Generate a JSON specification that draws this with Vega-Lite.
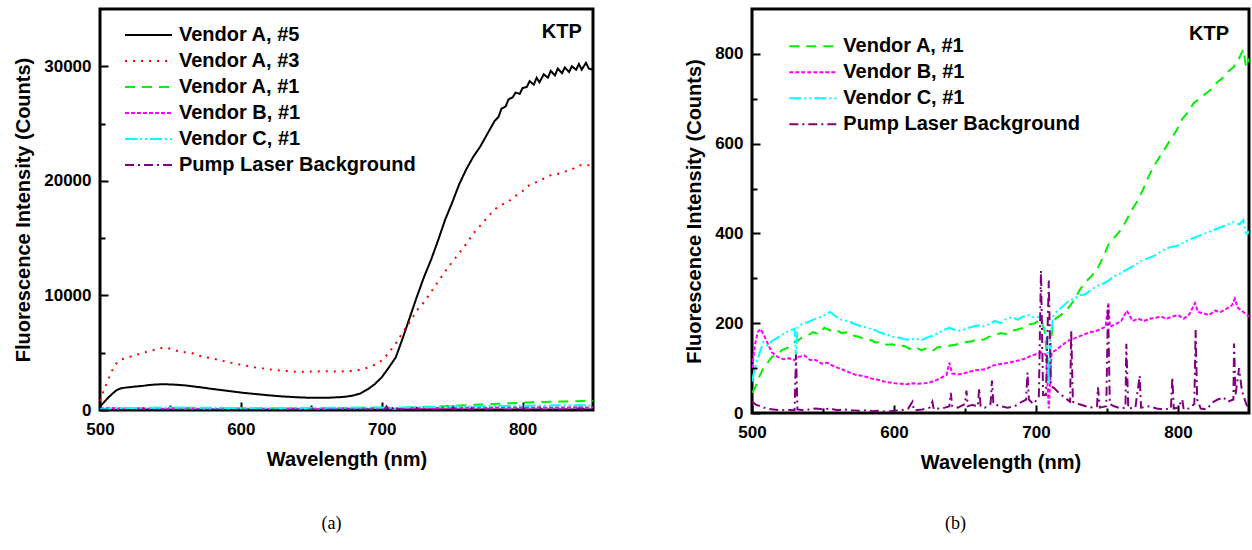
{
  "$schema": "https://vega.github.io/schema/vega-lite/v6.json",
  "background": "white",
  "padding": {"left": 12, "top": 7, "right": 0, "bottom": 0},
  "config": {
    "font": "Liberation Sans",
    "view": {"stroke": "black", "strokeWidth": 3},
    "axis": {"domain": false, "grid": false, "labelFlush": false, "labelFont": "Liberation Sans", "labelFontWeight": "bold", "labelFontSize": 17, "labelColor": "black", "titleFont": "Liberation Sans", "titleFontWeight": "bold", "titleFontSize": 20, "titleColor": "black", "tickColor": "black", "tickWidth": 2},
    "legend": {"orient": "none", "symbolType": "M-2,0H2", "symbolSize": 552, "symbolStrokeWidth": 2, "symbolFillColor": "transparent", "labelFont": "Liberation Sans", "labelFontWeight": "bold", "labelFontSize": 20, "labelColor": "black", "labelLimit": 400, "labelOffset": 17.5, "rowPadding": 3, "padding": 0, "title": null},
    "title": {"font": "Liberation Serif", "fontSize": 18, "fontWeight": "normal", "color": "black"}
  },
  "datasets": {
    "spec": [
      {"series":"Vendor A, #5","nm":500,"counts":300},{"series":"Vendor A, #5","nm":503,"counts":700},{"series":"Vendor A, #5","nm":506,"counts":1100},{"series":"Vendor A, #5","nm":509,"counts":1450},{"series":"Vendor A, #5","nm":512,"counts":1750},{"series":"Vendor A, #5","nm":515,"counts":1900},{"series":"Vendor A, #5","nm":520,"counts":1980},{"series":"Vendor A, #5","nm":525,"counts":2050},{"series":"Vendor A, #5","nm":530,"counts":2100},{"series":"Vendor A, #5","nm":535,"counts":2180},{"series":"Vendor A, #5","nm":540,"counts":2230},{"series":"Vendor A, #5","nm":545,"counts":2250},{"series":"Vendor A, #5","nm":550,"counts":2230},{"series":"Vendor A, #5","nm":555,"counts":2200},{"series":"Vendor A, #5","nm":560,"counts":2150},{"series":"Vendor A, #5","nm":565,"counts":2080},{"series":"Vendor A, #5","nm":570,"counts":2000},{"series":"Vendor A, #5","nm":575,"counts":1920},{"series":"Vendor A, #5","nm":580,"counts":1830},{"series":"Vendor A, #5","nm":590,"counts":1680},{"series":"Vendor A, #5","nm":600,"counts":1520},{"series":"Vendor A, #5","nm":610,"counts":1400},{"series":"Vendor A, #5","nm":620,"counts":1280},{"series":"Vendor A, #5","nm":630,"counts":1180},{"series":"Vendor A, #5","nm":640,"counts":1110},{"series":"Vendor A, #5","nm":650,"counts":1060},{"series":"Vendor A, #5","nm":660,"counts":1060},{"series":"Vendor A, #5","nm":670,"counts":1120},{"series":"Vendor A, #5","nm":675,"counts":1170},{"series":"Vendor A, #5","nm":680,"counts":1270},{"series":"Vendor A, #5","nm":685,"counts":1450},{"series":"Vendor A, #5","nm":690,"counts":1800},{"series":"Vendor A, #5","nm":695,"counts":2250},{"series":"Vendor A, #5","nm":700,"counts":2850},{"series":"Vendor A, #5","nm":705,"counts":3700},{"series":"Vendor A, #5","nm":710,"counts":4600},{"series":"Vendor A, #5","nm":715,"counts":6300},{"series":"Vendor A, #5","nm":720,"counts":8100},{"series":"Vendor A, #5","nm":725,"counts":9900},{"series":"Vendor A, #5","nm":730,"counts":11600},{"series":"Vendor A, #5","nm":735,"counts":13100},{"series":"Vendor A, #5","nm":740,"counts":14800},{"series":"Vendor A, #5","nm":745,"counts":16600},{"series":"Vendor A, #5","nm":750,"counts":18100},{"series":"Vendor A, #5","nm":755,"counts":19700},{"series":"Vendor A, #5","nm":760,"counts":21000},{"series":"Vendor A, #5","nm":765,"counts":22100},{"series":"Vendor A, #5","nm":770,"counts":23000},{"series":"Vendor A, #5","nm":775,"counts":24100},{"series":"Vendor A, #5","nm":780,"counts":25200},{"series":"Vendor A, #5","nm":783,"counts":25600},{"series":"Vendor A, #5","nm":785,"counts":26300},{"series":"Vendor A, #5","nm":788,"counts":26500},{"series":"Vendor A, #5","nm":790,"counts":27100},{"series":"Vendor A, #5","nm":793,"counts":27300},{"series":"Vendor A, #5","nm":795,"counts":27700},{"series":"Vendor A, #5","nm":798,"counts":27600},{"series":"Vendor A, #5","nm":800,"counts":28100},{"series":"Vendor A, #5","nm":803,"counts":28200},{"series":"Vendor A, #5","nm":805,"counts":28700},{"series":"Vendor A, #5","nm":808,"counts":28400},{"series":"Vendor A, #5","nm":810,"counts":29000},{"series":"Vendor A, #5","nm":812,"counts":28600},{"series":"Vendor A, #5","nm":815,"counts":29300},{"series":"Vendor A, #5","nm":818,"counts":29000},{"series":"Vendor A, #5","nm":820,"counts":29600},{"series":"Vendor A, #5","nm":823,"counts":29200},{"series":"Vendor A, #5","nm":825,"counts":29800},{"series":"Vendor A, #5","nm":828,"counts":29400},{"series":"Vendor A, #5","nm":830,"counts":29900},{"series":"Vendor A, #5","nm":833,"counts":29500},{"series":"Vendor A, #5","nm":835,"counts":30000},{"series":"Vendor A, #5","nm":838,"counts":29700},{"series":"Vendor A, #5","nm":840,"counts":30200},{"series":"Vendor A, #5","nm":842,"counts":29700},{"series":"Vendor A, #5","nm":845,"counts":30300},{"series":"Vendor A, #5","nm":847,"counts":29800},{"series":"Vendor A, #5","nm":850,"counts":29700},
      {"series":"Vendor A, #3","nm":500,"counts":800},{"series":"Vendor A, #3","nm":502,"counts":1500},{"series":"Vendor A, #3","nm":505,"counts":2400},{"series":"Vendor A, #3","nm":508,"counts":3300},{"series":"Vendor A, #3","nm":511,"counts":4000},{"series":"Vendor A, #3","nm":515,"counts":4400},{"series":"Vendor A, #3","nm":520,"counts":4600},{"series":"Vendor A, #3","nm":525,"counts":4800},{"series":"Vendor A, #3","nm":530,"counts":4950},{"series":"Vendor A, #3","nm":535,"counts":5150},{"series":"Vendor A, #3","nm":540,"counts":5300},{"series":"Vendor A, #3","nm":545,"counts":5450},{"series":"Vendor A, #3","nm":550,"counts":5350},{"series":"Vendor A, #3","nm":555,"counts":5150},{"series":"Vendor A, #3","nm":560,"counts":5050},{"series":"Vendor A, #3","nm":565,"counts":4980},{"series":"Vendor A, #3","nm":570,"counts":4750},{"series":"Vendor A, #3","nm":575,"counts":4600},{"series":"Vendor A, #3","nm":580,"counts":4500},{"series":"Vendor A, #3","nm":590,"counts":4200},{"series":"Vendor A, #3","nm":600,"counts":3950},{"series":"Vendor A, #3","nm":610,"counts":3720},{"series":"Vendor A, #3","nm":620,"counts":3550},{"series":"Vendor A, #3","nm":630,"counts":3420},{"series":"Vendor A, #3","nm":640,"counts":3340},{"series":"Vendor A, #3","nm":650,"counts":3360},{"series":"Vendor A, #3","nm":660,"counts":3380},{"series":"Vendor A, #3","nm":670,"counts":3360},{"series":"Vendor A, #3","nm":680,"counts":3420},{"series":"Vendor A, #3","nm":685,"counts":3520},{"series":"Vendor A, #3","nm":690,"counts":3700},{"series":"Vendor A, #3","nm":695,"counts":3950},{"series":"Vendor A, #3","nm":700,"counts":4300},{"series":"Vendor A, #3","nm":705,"counts":5000},{"series":"Vendor A, #3","nm":710,"counts":5800},{"series":"Vendor A, #3","nm":715,"counts":6800},{"series":"Vendor A, #3","nm":720,"counts":7700},{"series":"Vendor A, #3","nm":725,"counts":8700},{"series":"Vendor A, #3","nm":730,"counts":9400},{"series":"Vendor A, #3","nm":735,"counts":10300},{"series":"Vendor A, #3","nm":740,"counts":11200},{"series":"Vendor A, #3","nm":745,"counts":12100},{"series":"Vendor A, #3","nm":750,"counts":12900},{"series":"Vendor A, #3","nm":755,"counts":13700},{"series":"Vendor A, #3","nm":760,"counts":14500},{"series":"Vendor A, #3","nm":765,"counts":15400},{"series":"Vendor A, #3","nm":770,"counts":16100},{"series":"Vendor A, #3","nm":775,"counts":16800},{"series":"Vendor A, #3","nm":780,"counts":17500},{"series":"Vendor A, #3","nm":785,"counts":17900},{"series":"Vendor A, #3","nm":790,"counts":18200},{"series":"Vendor A, #3","nm":795,"counts":18700},{"series":"Vendor A, #3","nm":800,"counts":19100},{"series":"Vendor A, #3","nm":805,"counts":19650},{"series":"Vendor A, #3","nm":810,"counts":19900},{"series":"Vendor A, #3","nm":815,"counts":20200},{"series":"Vendor A, #3","nm":820,"counts":20500},{"series":"Vendor A, #3","nm":825,"counts":20600},{"series":"Vendor A, #3","nm":830,"counts":20800},{"series":"Vendor A, #3","nm":835,"counts":21000},{"series":"Vendor A, #3","nm":840,"counts":21350},{"series":"Vendor A, #3","nm":845,"counts":21400},{"series":"Vendor A, #3","nm":850,"counts":21300},
      {"series":"Vendor A, #1","nm":500,"counts":45},{"series":"Vendor A, #1","nm":502,"counts":55},{"series":"Vendor A, #1","nm":505,"counts":80},{"series":"Vendor A, #1","nm":508,"counts":100},{"series":"Vendor A, #1","nm":511,"counts":112},{"series":"Vendor A, #1","nm":514,"counts":125},{"series":"Vendor A, #1","nm":518,"counts":130},{"series":"Vendor A, #1","nm":521,"counts":140},{"series":"Vendor A, #1","nm":525,"counts":145},{"series":"Vendor A, #1","nm":528,"counts":155},{"series":"Vendor A, #1","nm":532,"counts":160},{"series":"Vendor A, #1","nm":535,"counts":168},{"series":"Vendor A, #1","nm":539,"counts":172},{"series":"Vendor A, #1","nm":543,"counts":180},{"series":"Vendor A, #1","nm":547,"counts":176},{"series":"Vendor A, #1","nm":551,"counts":190},{"series":"Vendor A, #1","nm":555,"counts":184},{"series":"Vendor A, #1","nm":559,"counts":186},{"series":"Vendor A, #1","nm":563,"counts":178},{"series":"Vendor A, #1","nm":567,"counts":180},{"series":"Vendor A, #1","nm":571,"counts":173},{"series":"Vendor A, #1","nm":575,"counts":170},{"series":"Vendor A, #1","nm":579,"counts":165},{"series":"Vendor A, #1","nm":583,"counts":163},{"series":"Vendor A, #1","nm":587,"counts":157},{"series":"Vendor A, #1","nm":591,"counts":158},{"series":"Vendor A, #1","nm":595,"counts":152},{"series":"Vendor A, #1","nm":599,"counts":153},{"series":"Vendor A, #1","nm":603,"counts":148},{"series":"Vendor A, #1","nm":607,"counts":150},{"series":"Vendor A, #1","nm":611,"counts":143},{"series":"Vendor A, #1","nm":615,"counts":147},{"series":"Vendor A, #1","nm":619,"counts":140},{"series":"Vendor A, #1","nm":623,"counts":144},{"series":"Vendor A, #1","nm":627,"counts":138},{"series":"Vendor A, #1","nm":631,"counts":147},{"series":"Vendor A, #1","nm":635,"counts":146},{"series":"Vendor A, #1","nm":639,"counts":150},{"series":"Vendor A, #1","nm":643,"counts":152},{"series":"Vendor A, #1","nm":647,"counts":155},{"series":"Vendor A, #1","nm":651,"counts":158},{"series":"Vendor A, #1","nm":655,"counts":160},{"series":"Vendor A, #1","nm":659,"counts":165},{"series":"Vendor A, #1","nm":663,"counts":163},{"series":"Vendor A, #1","nm":667,"counts":170},{"series":"Vendor A, #1","nm":671,"counts":173},{"series":"Vendor A, #1","nm":675,"counts":178},{"series":"Vendor A, #1","nm":679,"counts":176},{"series":"Vendor A, #1","nm":683,"counts":183},{"series":"Vendor A, #1","nm":687,"counts":186},{"series":"Vendor A, #1","nm":691,"counts":190},{"series":"Vendor A, #1","nm":695,"counts":197},{"series":"Vendor A, #1","nm":699,"counts":200},{"series":"Vendor A, #1","nm":703,"counts":207},{"series":"Vendor A, #1","nm":706,"counts":185},{"series":"Vendor A, #1","nm":708,"counts":120},{"series":"Vendor A, #1","nm":709,"counts":72},{"series":"Vendor A, #1","nm":710,"counts":140},{"series":"Vendor A, #1","nm":712,"counts":205},{"series":"Vendor A, #1","nm":715,"counts":213},{"series":"Vendor A, #1","nm":719,"counts":222},{"series":"Vendor A, #1","nm":723,"counts":235},{"series":"Vendor A, #1","nm":727,"counts":252},{"series":"Vendor A, #1","nm":731,"counts":275},{"series":"Vendor A, #1","nm":735,"counts":292},{"series":"Vendor A, #1","nm":739,"counts":305},{"series":"Vendor A, #1","nm":743,"counts":320},{"series":"Vendor A, #1","nm":747,"counts":345},{"series":"Vendor A, #1","nm":751,"counts":375},{"series":"Vendor A, #1","nm":755,"counts":390},{"series":"Vendor A, #1","nm":759,"counts":405},{"series":"Vendor A, #1","nm":763,"counts":425},{"series":"Vendor A, #1","nm":767,"counts":450},{"series":"Vendor A, #1","nm":771,"counts":470},{"series":"Vendor A, #1","nm":775,"counts":495},{"series":"Vendor A, #1","nm":779,"counts":525},{"series":"Vendor A, #1","nm":783,"counts":550},{"series":"Vendor A, #1","nm":787,"counts":570},{"series":"Vendor A, #1","nm":791,"counts":590},{"series":"Vendor A, #1","nm":795,"counts":610},{"series":"Vendor A, #1","nm":799,"counts":630},{"series":"Vendor A, #1","nm":803,"counts":655},{"series":"Vendor A, #1","nm":807,"counts":670},{"series":"Vendor A, #1","nm":811,"counts":690},{"series":"Vendor A, #1","nm":815,"counts":700},{"series":"Vendor A, #1","nm":819,"counts":710},{"series":"Vendor A, #1","nm":823,"counts":720},{"series":"Vendor A, #1","nm":827,"counts":735},{"series":"Vendor A, #1","nm":831,"counts":745},{"series":"Vendor A, #1","nm":835,"counts":760},{"series":"Vendor A, #1","nm":839,"counts":770},{"series":"Vendor A, #1","nm":843,"counts":790},{"series":"Vendor A, #1","nm":846,"counts":810},{"series":"Vendor A, #1","nm":848,"counts":770},{"series":"Vendor A, #1","nm":850,"counts":790},
      {"series":"Vendor B, #1","nm":500,"counts":100},{"series":"Vendor B, #1","nm":502,"counts":150},{"series":"Vendor B, #1","nm":504,"counts":180},{"series":"Vendor B, #1","nm":506,"counts":187},{"series":"Vendor B, #1","nm":508,"counts":176},{"series":"Vendor B, #1","nm":511,"counts":155},{"series":"Vendor B, #1","nm":514,"counts":135},{"series":"Vendor B, #1","nm":518,"counts":125},{"series":"Vendor B, #1","nm":522,"counts":120},{"series":"Vendor B, #1","nm":526,"counts":122},{"series":"Vendor B, #1","nm":530,"counts":118},{"series":"Vendor B, #1","nm":533,"counts":125},{"series":"Vendor B, #1","nm":537,"counts":128},{"series":"Vendor B, #1","nm":541,"counts":118},{"series":"Vendor B, #1","nm":545,"counts":118},{"series":"Vendor B, #1","nm":549,"counts":110},{"series":"Vendor B, #1","nm":553,"counts":112},{"series":"Vendor B, #1","nm":557,"counts":105},{"series":"Vendor B, #1","nm":561,"counts":100},{"series":"Vendor B, #1","nm":565,"counts":95},{"series":"Vendor B, #1","nm":569,"counts":90},{"series":"Vendor B, #1","nm":573,"counts":85},{"series":"Vendor B, #1","nm":577,"counts":83},{"series":"Vendor B, #1","nm":581,"counts":80},{"series":"Vendor B, #1","nm":585,"counts":76},{"series":"Vendor B, #1","nm":589,"counts":74},{"series":"Vendor B, #1","nm":593,"counts":70},{"series":"Vendor B, #1","nm":597,"counts":68},{"series":"Vendor B, #1","nm":601,"counts":66},{"series":"Vendor B, #1","nm":605,"counts":65},{"series":"Vendor B, #1","nm":609,"counts":64},{"series":"Vendor B, #1","nm":613,"counts":66},{"series":"Vendor B, #1","nm":617,"counts":65},{"series":"Vendor B, #1","nm":621,"counts":66},{"series":"Vendor B, #1","nm":625,"counts":68},{"series":"Vendor B, #1","nm":629,"counts":72},{"series":"Vendor B, #1","nm":633,"counts":78},{"series":"Vendor B, #1","nm":637,"counts":85},{"series":"Vendor B, #1","nm":639,"counts":112},{"series":"Vendor B, #1","nm":641,"counts":88},{"series":"Vendor B, #1","nm":645,"counts":86},{"series":"Vendor B, #1","nm":649,"counts":88},{"series":"Vendor B, #1","nm":653,"counts":92},{"series":"Vendor B, #1","nm":657,"counts":95},{"series":"Vendor B, #1","nm":661,"counts":96},{"series":"Vendor B, #1","nm":665,"counts":98},{"series":"Vendor B, #1","nm":669,"counts":105},{"series":"Vendor B, #1","nm":673,"counts":108},{"series":"Vendor B, #1","nm":677,"counts":110},{"series":"Vendor B, #1","nm":681,"counts":112},{"series":"Vendor B, #1","nm":685,"counts":115},{"series":"Vendor B, #1","nm":689,"counts":118},{"series":"Vendor B, #1","nm":693,"counts":122},{"series":"Vendor B, #1","nm":697,"counts":128},{"series":"Vendor B, #1","nm":701,"counts":132},{"series":"Vendor B, #1","nm":704,"counts":135},{"series":"Vendor B, #1","nm":707,"counts":130},{"series":"Vendor B, #1","nm":709,"counts":10},{"series":"Vendor B, #1","nm":711,"counts":135},{"series":"Vendor B, #1","nm":714,"counts":140},{"series":"Vendor B, #1","nm":718,"counts":150},{"series":"Vendor B, #1","nm":722,"counts":160},{"series":"Vendor B, #1","nm":726,"counts":165},{"series":"Vendor B, #1","nm":730,"counts":170},{"series":"Vendor B, #1","nm":734,"counts":175},{"series":"Vendor B, #1","nm":738,"counts":180},{"series":"Vendor B, #1","nm":742,"counts":182},{"series":"Vendor B, #1","nm":746,"counts":188},{"series":"Vendor B, #1","nm":749,"counts":192},{"series":"Vendor B, #1","nm":751,"counts":246},{"series":"Vendor B, #1","nm":752,"counts":192},{"series":"Vendor B, #1","nm":756,"counts":198},{"series":"Vendor B, #1","nm":760,"counts":205},{"series":"Vendor B, #1","nm":764,"counts":228},{"series":"Vendor B, #1","nm":768,"counts":205},{"series":"Vendor B, #1","nm":772,"counts":210},{"series":"Vendor B, #1","nm":776,"counts":205},{"series":"Vendor B, #1","nm":780,"counts":210},{"series":"Vendor B, #1","nm":784,"counts":212},{"series":"Vendor B, #1","nm":788,"counts":215},{"series":"Vendor B, #1","nm":792,"counts":210},{"series":"Vendor B, #1","nm":796,"counts":215},{"series":"Vendor B, #1","nm":800,"counts":218},{"series":"Vendor B, #1","nm":804,"counts":210},{"series":"Vendor B, #1","nm":808,"counts":220},{"series":"Vendor B, #1","nm":812,"counts":245},{"series":"Vendor B, #1","nm":814,"counts":225},{"series":"Vendor B, #1","nm":818,"counts":222},{"series":"Vendor B, #1","nm":822,"counts":218},{"series":"Vendor B, #1","nm":826,"counts":228},{"series":"Vendor B, #1","nm":830,"counts":225},{"series":"Vendor B, #1","nm":834,"counts":232},{"series":"Vendor B, #1","nm":838,"counts":240},{"series":"Vendor B, #1","nm":840,"counts":255},{"series":"Vendor B, #1","nm":842,"counts":235},{"series":"Vendor B, #1","nm":846,"counts":225},{"series":"Vendor B, #1","nm":850,"counts":215},
      {"series":"Vendor C, #1","nm":500,"counts":70},{"series":"Vendor C, #1","nm":502,"counts":100},{"series":"Vendor C, #1","nm":504,"counts":120},{"series":"Vendor C, #1","nm":506,"counts":140},{"series":"Vendor C, #1","nm":508,"counts":158},{"series":"Vendor C, #1","nm":511,"counts":150},{"series":"Vendor C, #1","nm":514,"counts":160},{"series":"Vendor C, #1","nm":518,"counts":168},{"series":"Vendor C, #1","nm":522,"counts":176},{"series":"Vendor C, #1","nm":526,"counts":183},{"series":"Vendor C, #1","nm":530,"counts":188},{"series":"Vendor C, #1","nm":531,"counts":120},{"series":"Vendor C, #1","nm":532,"counts":190},{"series":"Vendor C, #1","nm":535,"counts":198},{"series":"Vendor C, #1","nm":539,"counts":202},{"series":"Vendor C, #1","nm":543,"counts":208},{"series":"Vendor C, #1","nm":547,"counts":212},{"series":"Vendor C, #1","nm":551,"counts":218},{"series":"Vendor C, #1","nm":555,"counts":225},{"series":"Vendor C, #1","nm":559,"counts":215},{"series":"Vendor C, #1","nm":563,"counts":208},{"series":"Vendor C, #1","nm":567,"counts":205},{"series":"Vendor C, #1","nm":571,"counts":200},{"series":"Vendor C, #1","nm":575,"counts":195},{"series":"Vendor C, #1","nm":579,"counts":192},{"series":"Vendor C, #1","nm":583,"counts":188},{"series":"Vendor C, #1","nm":587,"counts":184},{"series":"Vendor C, #1","nm":591,"counts":178},{"series":"Vendor C, #1","nm":595,"counts":175},{"series":"Vendor C, #1","nm":599,"counts":170},{"series":"Vendor C, #1","nm":603,"counts":168},{"series":"Vendor C, #1","nm":607,"counts":165},{"series":"Vendor C, #1","nm":611,"counts":163},{"series":"Vendor C, #1","nm":615,"counts":166},{"series":"Vendor C, #1","nm":619,"counts":162},{"series":"Vendor C, #1","nm":623,"counts":168},{"series":"Vendor C, #1","nm":627,"counts":172},{"series":"Vendor C, #1","nm":631,"counts":178},{"series":"Vendor C, #1","nm":635,"counts":185},{"series":"Vendor C, #1","nm":639,"counts":190},{"series":"Vendor C, #1","nm":643,"counts":185},{"series":"Vendor C, #1","nm":647,"counts":183},{"series":"Vendor C, #1","nm":651,"counts":188},{"series":"Vendor C, #1","nm":655,"counts":192},{"series":"Vendor C, #1","nm":659,"counts":195},{"series":"Vendor C, #1","nm":663,"counts":193},{"series":"Vendor C, #1","nm":667,"counts":198},{"series":"Vendor C, #1","nm":671,"counts":205},{"series":"Vendor C, #1","nm":675,"counts":200},{"series":"Vendor C, #1","nm":679,"counts":210},{"series":"Vendor C, #1","nm":683,"counts":213},{"series":"Vendor C, #1","nm":687,"counts":208},{"series":"Vendor C, #1","nm":691,"counts":215},{"series":"Vendor C, #1","nm":695,"counts":218},{"series":"Vendor C, #1","nm":699,"counts":212},{"series":"Vendor C, #1","nm":703,"counts":215},{"series":"Vendor C, #1","nm":706,"counts":190},{"series":"Vendor C, #1","nm":708,"counts":150},{"series":"Vendor C, #1","nm":709,"counts":64},{"series":"Vendor C, #1","nm":710,"counts":160},{"series":"Vendor C, #1","nm":712,"counts":215},{"series":"Vendor C, #1","nm":715,"counts":228},{"series":"Vendor C, #1","nm":719,"counts":238},{"series":"Vendor C, #1","nm":723,"counts":250},{"series":"Vendor C, #1","nm":727,"counts":255},{"series":"Vendor C, #1","nm":731,"counts":262},{"series":"Vendor C, #1","nm":735,"counts":265},{"series":"Vendor C, #1","nm":739,"counts":275},{"series":"Vendor C, #1","nm":743,"counts":283},{"series":"Vendor C, #1","nm":747,"counts":288},{"series":"Vendor C, #1","nm":751,"counts":295},{"series":"Vendor C, #1","nm":755,"counts":305},{"series":"Vendor C, #1","nm":759,"counts":310},{"series":"Vendor C, #1","nm":763,"counts":318},{"series":"Vendor C, #1","nm":767,"counts":325},{"series":"Vendor C, #1","nm":771,"counts":332},{"series":"Vendor C, #1","nm":775,"counts":340},{"series":"Vendor C, #1","nm":779,"counts":345},{"series":"Vendor C, #1","nm":783,"counts":350},{"series":"Vendor C, #1","nm":787,"counts":358},{"series":"Vendor C, #1","nm":791,"counts":365},{"series":"Vendor C, #1","nm":795,"counts":370},{"series":"Vendor C, #1","nm":799,"counts":372},{"series":"Vendor C, #1","nm":803,"counts":378},{"series":"Vendor C, #1","nm":807,"counts":385},{"series":"Vendor C, #1","nm":811,"counts":390},{"series":"Vendor C, #1","nm":815,"counts":395},{"series":"Vendor C, #1","nm":819,"counts":400},{"series":"Vendor C, #1","nm":823,"counts":405},{"series":"Vendor C, #1","nm":827,"counts":410},{"series":"Vendor C, #1","nm":831,"counts":415},{"series":"Vendor C, #1","nm":835,"counts":420},{"series":"Vendor C, #1","nm":839,"counts":425},{"series":"Vendor C, #1","nm":843,"counts":420},{"series":"Vendor C, #1","nm":846,"counts":430},{"series":"Vendor C, #1","nm":848,"counts":395},{"series":"Vendor C, #1","nm":850,"counts":405},
      {"series":"Pump Laser Background","nm":500,"counts":25},{"series":"Pump Laser Background","nm":503,"counts":18},{"series":"Pump Laser Background","nm":506,"counts":15},{"series":"Pump Laser Background","nm":510,"counts":10},{"series":"Pump Laser Background","nm":515,"counts":8},{"series":"Pump Laser Background","nm":520,"counts":6},{"series":"Pump Laser Background","nm":525,"counts":7},{"series":"Pump Laser Background","nm":530,"counts":6},{"series":"Pump Laser Background","nm":531,"counts":130},{"series":"Pump Laser Background","nm":532,"counts":8},{"series":"Pump Laser Background","nm":536,"counts":6},{"series":"Pump Laser Background","nm":540,"counts":8},{"series":"Pump Laser Background","nm":545,"counts":10},{"series":"Pump Laser Background","nm":550,"counts":8},{"series":"Pump Laser Background","nm":555,"counts":10},{"series":"Pump Laser Background","nm":560,"counts":6},{"series":"Pump Laser Background","nm":565,"counts":8},{"series":"Pump Laser Background","nm":570,"counts":6},{"series":"Pump Laser Background","nm":575,"counts":5},{"series":"Pump Laser Background","nm":580,"counts":6},{"series":"Pump Laser Background","nm":585,"counts":4},{"series":"Pump Laser Background","nm":590,"counts":5},{"series":"Pump Laser Background","nm":595,"counts":3},{"series":"Pump Laser Background","nm":600,"counts":5},{"series":"Pump Laser Background","nm":605,"counts":6},{"series":"Pump Laser Background","nm":610,"counts":10},{"series":"Pump Laser Background","nm":613,"counts":25},{"series":"Pump Laser Background","nm":614,"counts":6},{"series":"Pump Laser Background","nm":620,"counts":8},{"series":"Pump Laser Background","nm":625,"counts":12},{"series":"Pump Laser Background","nm":627,"counts":25},{"series":"Pump Laser Background","nm":628,"counts":8},{"series":"Pump Laser Background","nm":632,"counts":10},{"series":"Pump Laser Background","nm":636,"counts":12},{"series":"Pump Laser Background","nm":639,"counts":15},{"series":"Pump Laser Background","nm":640,"counts":45},{"series":"Pump Laser Background","nm":641,"counts":15},{"series":"Pump Laser Background","nm":645,"counts":12},{"series":"Pump Laser Background","nm":650,"counts":20},{"series":"Pump Laser Background","nm":651,"counts":50},{"series":"Pump Laser Background","nm":652,"counts":15},{"series":"Pump Laser Background","nm":655,"counts":18},{"series":"Pump Laser Background","nm":659,"counts":15},{"series":"Pump Laser Background","nm":660,"counts":55},{"series":"Pump Laser Background","nm":661,"counts":15},{"series":"Pump Laser Background","nm":664,"counts":12},{"series":"Pump Laser Background","nm":668,"counts":20},{"series":"Pump Laser Background","nm":669,"counts":72},{"series":"Pump Laser Background","nm":670,"counts":20},{"series":"Pump Laser Background","nm":675,"counts":15},{"series":"Pump Laser Background","nm":680,"counts":12},{"series":"Pump Laser Background","nm":685,"counts":15},{"series":"Pump Laser Background","nm":690,"counts":25},{"series":"Pump Laser Background","nm":693,"counts":30},{"series":"Pump Laser Background","nm":694,"counts":90},{"series":"Pump Laser Background","nm":695,"counts":30},{"series":"Pump Laser Background","nm":698,"counts":20},{"series":"Pump Laser Background","nm":702,"counts":35},{"series":"Pump Laser Background","nm":703.5,"counts":317},{"series":"Pump Laser Background","nm":705,"counts":40},{"series":"Pump Laser Background","nm":707,"counts":40},{"series":"Pump Laser Background","nm":709,"counts":295},{"series":"Pump Laser Background","nm":710.5,"counts":60},{"series":"Pump Laser Background","nm":713,"counts":55},{"series":"Pump Laser Background","nm":716,"counts":45},{"series":"Pump Laser Background","nm":720,"counts":35},{"series":"Pump Laser Background","nm":724,"counts":25},{"series":"Pump Laser Background","nm":724.8,"counts":183},{"series":"Pump Laser Background","nm":726,"counts":25},{"series":"Pump Laser Background","nm":730,"counts":20},{"series":"Pump Laser Background","nm":735,"counts":15},{"series":"Pump Laser Background","nm":740,"counts":12},{"series":"Pump Laser Background","nm":743,"counts":15},{"series":"Pump Laser Background","nm":743.6,"counts":57},{"series":"Pump Laser Background","nm":745,"counts":12},{"series":"Pump Laser Background","nm":749.5,"counts":15},{"series":"Pump Laser Background","nm":750.7,"counts":240},{"series":"Pump Laser Background","nm":752,"counts":20},{"series":"Pump Laser Background","nm":755,"counts":15},{"series":"Pump Laser Background","nm":760,"counts":10},{"series":"Pump Laser Background","nm":763,"counts":12},{"series":"Pump Laser Background","nm":763.6,"counts":154},{"series":"Pump Laser Background","nm":765,"counts":10},{"series":"Pump Laser Background","nm":770,"counts":12},{"series":"Pump Laser Background","nm":773,"counts":83},{"series":"Pump Laser Background","nm":774,"counts":12},{"series":"Pump Laser Background","nm":780,"counts":15},{"series":"Pump Laser Background","nm":785,"counts":10},{"series":"Pump Laser Background","nm":790,"counts":8},{"series":"Pump Laser Background","nm":795,"counts":10},{"series":"Pump Laser Background","nm":796,"counts":80},{"series":"Pump Laser Background","nm":797,"counts":10},{"series":"Pump Laser Background","nm":800,"counts":12},{"series":"Pump Laser Background","nm":803,"counts":30},{"series":"Pump Laser Background","nm":804,"counts":8},{"series":"Pump Laser Background","nm":808,"counts":10},{"series":"Pump Laser Background","nm":811.5,"counts":20},{"series":"Pump Laser Background","nm":812.4,"counts":185},{"series":"Pump Laser Background","nm":813.5,"counts":30},{"series":"Pump Laser Background","nm":816,"counts":10},{"series":"Pump Laser Background","nm":820,"counts":8},{"series":"Pump Laser Background","nm":825,"counts":25},{"series":"Pump Laser Background","nm":828,"counts":30},{"series":"Pump Laser Background","nm":832,"counts":35},{"series":"Pump Laser Background","nm":835,"counts":25},{"series":"Pump Laser Background","nm":839,"counts":30},{"series":"Pump Laser Background","nm":839.5,"counts":155},{"series":"Pump Laser Background","nm":840.5,"counts":40},{"series":"Pump Laser Background","nm":843,"counts":100},{"series":"Pump Laser Background","nm":845,"counts":50},{"series":"Pump Laser Background","nm":848,"counts":20},{"series":"Pump Laser Background","nm":850,"counts":10}
    ]
  },
  "spacing": 88,
  "hconcat": [
    {
      "width": 493,
      "height": 401,
      "title": {"text": "(a)", "orient": "bottom", "frame": "group", "anchor": "middle", "offset": 46, "dx": -15},
      "layer": [
        {
          "data": {"name": "spec"},
          "mark": {"type": "line", "strokeWidth": 2, "clip": true},
          "encoding": {
            "x": {"field": "nm", "type": "quantitative", "scale": {"domain": [500, 850], "nice": false, "zero": false},
                  "axis": {"title": "Wavelength (nm)", "values": [500,550,600,650,700,750,800], "format": "d", "labelExpr": "datum.value % 100 === 0 ? datum.label : ''", "tickSize": {"condition": {"test": "datum.value % 100 === 0", "value": -8}, "value": -5}, "labelPadding": 19, "titlePadding": 12}},
            "y": {"field": "counts", "type": "quantitative", "scale": {"domain": [0, 35000], "nice": false},
                  "axis": {"title": "Fluorescence Intensity (Counts)", "values": [0,5000,10000,15000,20000,25000,30000], "format": "d", "labelExpr": "datum.value % 10000 === 0 ? datum.label : ''", "tickSize": {"condition": {"test": "datum.value % 10000 === 0", "value": -8}, "value": -5}, "labelPadding": 17, "titlePadding": 10}},
            "color": {"field": "series", "type": "nominal",
                      "scale": {"domain": ["Vendor A, #5","Vendor A, #3","Vendor A, #1","Vendor B, #1","Vendor C, #1","Pump Laser Background"], "range": ["#000000","#ff0000","#00f000","#ff00ff","#00ffff","#800080"]},
                      "legend": {"legendX": 35.5, "legendY": 13}},
            "strokeDash": {"field": "series", "type": "nominal",
                      "scale": {"domain": ["Vendor A, #5","Vendor A, #3","Vendor A, #1","Vendor B, #1","Vendor C, #1","Pump Laser Background"], "range": [[1,0],[2,6],[10,7],[4,2],[12,3,2,3,2,3],[9,4,2,4]]},
                      "legend": {"legendX": 35.5, "legendY": 13}}
          }
        },
        {
          "data": {"values": [{}]},
          "mark": {"type": "text", "text": "KTP", "align": "right", "baseline": "middle", "fontSize": 20, "fontWeight": "bold", "font": "Liberation Sans", "color": "black"},
          "encoding": {"x": {"datum": 842}, "y": {"datum": 33000}}
        }
      ]
    },
    {
      "width": 497,
      "height": 404,
      "title": {"text": "(b)", "orient": "bottom", "frame": "group", "anchor": "middle", "offset": 43, "dx": -45},
      "layer": [
        {
          "data": {"name": "spec"},
          "transform": [{"filter": "datum.series !== 'Vendor A, #5' && datum.series !== 'Vendor A, #3'"}],
          "mark": {"type": "line", "strokeWidth": 2, "clip": true},
          "encoding": {
            "x": {"field": "nm", "type": "quantitative", "scale": {"domain": [500, 850], "nice": false, "zero": false},
                  "axis": {"title": "Wavelength (nm)", "values": [500,550,600,650,700,750,800], "format": "d", "labelExpr": "datum.value % 100 === 0 ? datum.label : ''", "tickSize": {"condition": {"test": "datum.value % 100 === 0", "value": -8}, "value": -5}, "labelPadding": 19, "titlePadding": 12}},
            "y": {"field": "counts", "type": "quantitative", "scale": {"domain": [0, 900], "nice": false},
                  "axis": {"title": "Fluorescence Intensity (Counts)", "values": [0,100,200,300,400,500,600,700,800], "format": "d", "labelExpr": "datum.value % 200 === 0 ? datum.label : ''", "tickSize": {"condition": {"test": "datum.value % 200 === 0", "value": -8}, "value": -5}, "labelPadding": 17, "titlePadding": 10}},
            "color": {"field": "series", "type": "nominal",
                      "scale": {"domain": ["Vendor A, #1","Vendor B, #1","Vendor C, #1","Pump Laser Background"], "range": ["#00f000","#ff00ff","#00ffff","#800080"]},
                      "legend": {"legendX": 47.8, "legendY": 24.3}},
            "strokeDash": {"field": "series", "type": "nominal",
                      "scale": {"domain": ["Vendor A, #1","Vendor B, #1","Vendor C, #1","Pump Laser Background"], "range": [[10,7],[4,2],[12,3,2,3,2,3],[9,4,2,4]]},
                      "legend": {"legendX": 47.8, "legendY": 24.3}}
          }
        },
        {
          "data": {"values": [{}]},
          "mark": {"type": "text", "text": "KTP", "align": "right", "baseline": "middle", "fontSize": 20, "fontWeight": "bold", "font": "Liberation Sans", "color": "black"},
          "encoding": {"x": {"datum": 836}, "y": {"datum": 845}}
        }
      ]
    }
  ],
  "resolve": {"scale": {"color": "independent", "strokeDash": "independent", "x": "independent", "y": "independent"}, "legend": {"color": "independent", "strokeDash": "independent"}}
}
